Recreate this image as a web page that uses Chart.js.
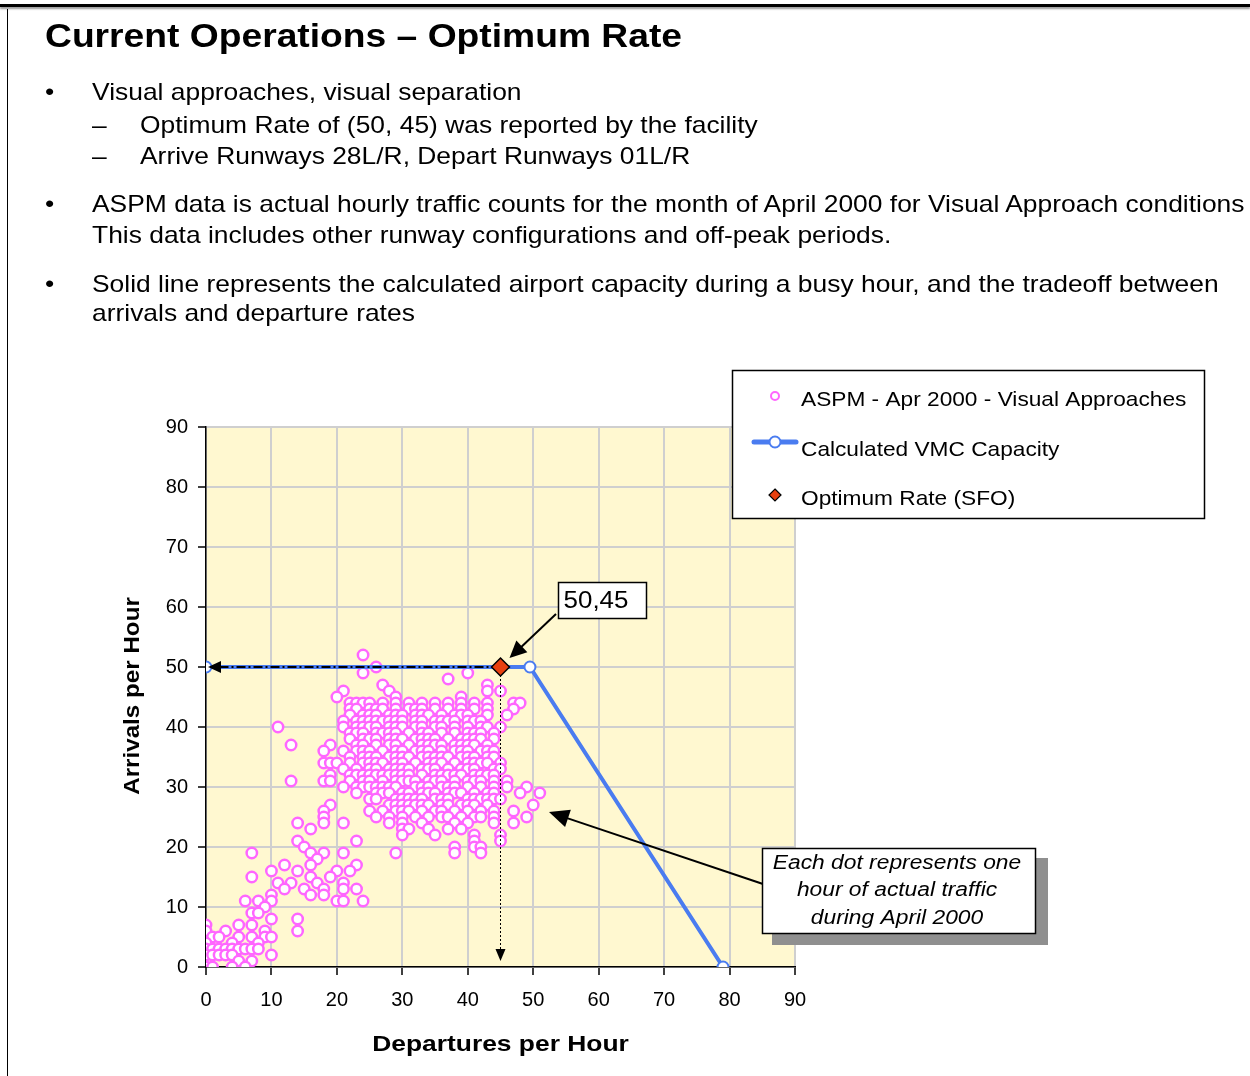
<!DOCTYPE html>
<html><head><meta charset="utf-8">
<script src="https://cdn.jsdelivr.net/npm/chart.js@4.4.1/dist/chart.umd.min.js"></script>
<style>
html,body{margin:0;padding:0;background:#fff;width:1250px;height:1076px;overflow:hidden;font-family:"Liberation Sans",Arial,sans-serif;}
#frameTop{position:absolute;left:0;top:4px;width:1250px;height:3px;background:#000;box-shadow:0 2px 2px #999;}
#frameLeft{position:absolute;left:7px;top:9px;width:1px;height:1067px;background:#000;}
.t{position:absolute;white-space:nowrap;color:#000;line-height:1;transform-origin:0 0;}
#title{left:45px;top:19px;font-size:33px;font-weight:bold;transform:scaleX(1.128);}
.b{font-size:24px;transform:scaleX(1.1);}
canvas{position:absolute;left:0;top:0;}
</style></head>
<body>
<canvas id="c" width="1250" height="1076"></canvas>
<div id="frameTop"></div><div id="frameLeft"></div>
<div class="t" id="title">Current Operations – Optimum Rate</div>
<div class="t b" style="left:45px;top:80px">•</div>
<div class="t b" style="left:92px;top:80px">Visual approaches, visual separation</div>
<div class="t b" style="left:92px;top:113px">–</div>
<div class="t b" style="left:140px;top:113px">Optimum Rate of (50, 45) was reported by the facility</div>
<div class="t b" style="left:92px;top:144px">–</div>
<div class="t b" style="left:140px;top:144px">Arrive Runways 28L/R, Depart Runways 01L/R</div>
<div class="t b" style="left:45px;top:192px">•</div>
<div class="t b" style="left:92px;top:192px">ASPM data is actual hourly traffic counts for the month of April 2000 for Visual Approach conditions</div>
<div class="t b" style="left:92px;top:223px">This data includes other runway configurations and off-peak periods.</div>
<div class="t b" style="left:45px;top:272px">•</div>
<div class="t b" style="left:92px;top:272px">Solid line represents the calculated airport capacity during a busy hour, and the tradeoff between</div>
<div class="t b" style="left:92px;top:301px">arrivals and departure rates</div>
<script>
// ---- data ----
const xTickValues = [0,10,20,30,40,50,60,70,80,90];
const yTickValues = [0,10,20,30,40,50,60,70,80,90];
const xTitle = 'Departures per Hour';
const yTitle = 'Arrivals per Hour';
const seriesNames = ['ASPM - Apr 2000 - Visual Approaches','Calculated VMC Capacity','Optimum Rate (SFO)'];
const capacityDepartures = [0, 49.5, 79];
const capacityArrivals = [50, 50, 0];
const optimumDepartures = [45];
const optimumArrivals = [50];
const calloutLabel = '50,45';
const noteLines = ['Each dot represents one','hour of actual traffic','during April 2000'];
// ASPM hourly counts: [departures, arrivals]
const aspmHours = [
[24,52],[26,50],[24,49],[40,49],[37,48],[27,47],[43,47],
[21,46],[28,46],[43,46],[45,46],[20,45],[29,45],[39,45],
[22,44],[23,44],[24,44],[25,44],[27,44],[29,44],[31,44],[33,44],[35,44],[37,44],[39,44],[41,44],[43,44],[47,44],[48,44],
[22,43],[23,43],[25,43],[26,43],[27,43],[29,43],[31,43],[32,43],[33,43],[35,43],[37,43],[39,43],[41,43],[43,43],[47,43],
[22,42],[24,42],[25,42],[26,42],[28,42],[29,42],[30,42],[32,42],[33,42],[34,42],[36,42],[38,42],[39,42],[40,42],[43,42],[46,42],
[21,41],[23,41],[24,41],[25,41],[26,41],[27,41],[28,41],[29,41],[30,41],[32,41],[33,41],[35,41],[36,41],[37,41],[38,41],[40,41],[41,41],[42,41],
[11,40],[21,40],[23,40],[24,40],[25,40],[26,40],[28,40],[29,40],[30,40],[32,40],[33,40],[35,40],[36,40],[38,40],[40,40],[42,40],[43,40],[45,40],
[22,39],[23,39],[24,39],[26,39],[27,39],[28,39],[29,39],[31,39],[33,39],[34,39],[36,39],[38,39],[40,39],[41,39],[42,39],[44,39],
[22,38],[24,38],[25,38],[26,38],[28,38],[29,38],[30,38],[32,38],[33,38],[34,38],[35,38],[37,38],[39,38],[40,38],[41,38],[42,38],[44,38],
[13,37],[19,37],[23,37],[24,37],[26,37],[28,37],[29,37],[31,37],[33,37],[34,37],[35,37],[36,37],[38,37],[39,37],[40,37],[41,37],[43,37],
[18,36],[21,36],[23,36],[24,36],[25,36],[27,36],[29,36],[30,36],[32,36],[33,36],[34,36],[36,36],[38,36],[39,36],[40,36],[42,36],[43,36],[44,36],
[22,35],[24,35],[25,35],[26,35],[28,35],[29,35],[30,35],[31,35],[33,35],[34,35],[35,35],[36,35],[37,35],[39,35],[40,35],[41,35],[43,35],[44,35],
[18,34],[19,34],[20,34],[22,34],[24,34],[25,34],[26,34],[27,34],[29,34],[30,34],[32,34],[34,34],[35,34],[36,34],[38,34],[40,34],[41,34],[42,34],[43,34],[45,34],
[21,33],[23,33],[25,33],[26,33],[28,33],[29,33],[30,33],[31,33],[33,33],[34,33],[35,33],[37,33],[39,33],[40,33],[41,33],[44,33],[45,33],
[19,32],[22,32],[23,32],[24,32],[25,32],[26,32],[27,32],[28,32],[29,32],[30,32],[31,32],[33,32],[35,32],[36,32],[37,32],[38,32],[39,32],[41,32],[42,32],[43,32],[44,32],
[13,31],[18,31],[19,31],[22,31],[24,31],[25,31],[27,31],[29,31],[30,31],[31,31],[32,31],[34,31],[35,31],[36,31],[38,31],[40,31],[41,31],[42,31],[44,31],[46,31],
[21,30],[23,30],[24,30],[25,30],[26,30],[27,30],[28,30],[29,30],[32,30],[33,30],[34,30],[36,30],[37,30],[38,30],[40,30],[42,30],[44,30],[46,30],[49,30],
[23,29],[26,29],[27,29],[28,29],[30,29],[31,29],[33,29],[34,29],[35,29],[37,29],[38,29],[39,29],[41,29],[43,29],[44,29],[48,29],[51,29],
[25,28],[26,28],[29,28],[30,28],[31,28],[32,28],[33,28],[35,28],[36,28],[37,28],[40,28],[41,28],[42,28],[43,28],[44,28],[45,28],
[19,27],[28,27],[29,27],[30,27],[31,27],[32,27],[33,27],[34,27],[36,27],[37,27],[39,27],[40,27],[41,27],[43,27],[50,27],
[18,26],[25,26],[27,26],[29,26],[30,26],[31,26],[33,26],[35,26],[36,26],[38,26],[40,26],[42,26],[44,26],[47,26],
[18,25],[26,25],[28,25],[30,25],[32,25],[34,25],[36,25],[37,25],[39,25],[41,25],[42,25],[44,25],[49,25],
[14,24],[18,24],[21,24],[28,24],[30,24],[33,24],[38,24],[40,24],[44,24],[47,24],
[16,23],[30,23],[31,23],[34,23],[37,23],[39,23],
[30,22],[35,22],[41,22],[45,22],
[14,21],[23,21],[41,21],[45,21],
[15,20],[38,20],[41,20],[42,20],
[7,19],[16,19],[18,19],[21,19],[29,19],[38,19],[42,19],
[17,18],[12,17],[16,17],[23,17],
[10,16],[14,16],[20,16],[22,16],
[7,15],[16,15],[19,15],
[11,14],[13,14],[17,14],[21,14],
[12,13],[15,13],[18,13],[21,13],[23,13],
[10,12],[16,12],[18,12],
[6,11],[8,11],[10,11],[20,11],[21,11],[24,11],
[9,10],[7,9],[8,9],[10,8],[14,8],
[0,7],[5,7],[7,7],
[0,6],[3,6],[9,6],[14,6],
[1,5],[2,5],[5,5],[7,5],[9,5],[10,5],
[0,4],[4,4],[8,4],
[0,3],[1,3],[2,3],[3,3],[4,3],[5,3],[6,3],[7,3],[8,3],
[0,2],[1,2],[2,2],[3,2],[4,2],[10,2],
[5,1],[7,1],
[0,0],[1,0],[4,0],[6,0]
];

// ---- styles ----
const FONT = '"Liberation Sans", Arial, sans-serif';
const PINK = '#ff66ff';
const BLUE = '#4a7cf0';
const RED = '#e8400f';
const CREAM = '#fff8d0';
const GRID = '#cfcfcf';

function arrow(ctx, x1, y1, x2, y2, len, half) {
  const a = Math.atan2(y2 - y1, x2 - x1);
  const c = Math.cos(a), s = Math.sin(a);
  ctx.beginPath(); ctx.moveTo(x1, y1); ctx.lineTo(x2 - c * len * 0.8, y2 - s * len * 0.8); ctx.stroke();
  ctx.setLineDash([]);
  ctx.beginPath(); ctx.moveTo(x2, y2);
  ctx.lineTo(x2 - len * c + half * s, y2 - len * s - half * c);
  ctx.lineTo(x2 - len * c - half * s, y2 - len * s + half * c);
  ctx.closePath(); ctx.fill();
}
function sText(ctx, t, x, y, sx, align) {
  ctx.save(); ctx.translate(x, y); ctx.scale(sx, 1); ctx.textAlign = align; ctx.fillText(t, 0, 0); ctx.restore();
}

const decor = {
  id: 'decor',
  beforeDraw(chart) {
    const {ctx, chartArea: a} = chart;
    ctx.save(); ctx.fillStyle = CREAM; ctx.fillRect(a.left, a.top, a.right - a.left, a.bottom - a.top); ctx.restore();
  },
  afterDatasetDraw(chart, args) {
    if (args.index !== 1) return;
    const {ctx, scales: {x, y}} = chart;
    const ox = x.getPixelForValue(optimumDepartures[0]);
    const oy = y.getPixelForValue(optimumArrivals[0]);
    ctx.save();
    ctx.strokeStyle = '#000'; ctx.fillStyle = '#000';
    ctx.lineWidth = 1.8; ctx.setLineDash([9, 3, 2, 3]);
    arrow(ctx, ox, oy, x.getPixelForValue(0) + 2, oy, 13, 6);
    ctx.lineWidth = 1; ctx.setLineDash([2, 2]);
    arrow(ctx, ox, oy, ox, y.getPixelForValue(0) - 6, 12, 5);
    ctx.restore();
  },
  afterDraw(chart) {
    const {ctx, scales: {x, y}} = chart;
    ctx.save();
    ctx.fillStyle = '#000'; ctx.font = 'bold 22px ' + FONT; ctx.textBaseline = 'middle';
    sText(ctx, xTitle, (x.left + x.right) / 2, 1045, 1.2, 'center');
    ctx.save(); ctx.translate(133, (y.top + y.bottom) / 2 - 1); ctx.rotate(-Math.PI / 2);
    sText(ctx, yTitle, 0, 0, 1.1, 'center'); ctx.restore();

    const ox = x.getPixelForValue(optimumDepartures[0]);
    const oy = y.getPixelForValue(optimumArrivals[0]);
    ctx.strokeStyle = '#000'; ctx.fillStyle = '#000'; ctx.lineWidth = 2;
    arrow(ctx, 556, 614, ox + 9, oy - 9, 17, 8);
    ctx.fillStyle = '#fff'; ctx.fillRect(558, 582, 88, 36);
    ctx.lineWidth = 1.5; ctx.strokeRect(558.5, 582.5, 88, 36);
    ctx.fillStyle = '#000'; ctx.font = '24px ' + FONT;
    sText(ctx, calloutLabel, 596, 601, 1.08, 'center');

    ctx.lineWidth = 2;
    arrow(ctx, 763, 884, 549, 812, 20, 9);
    ctx.fillStyle = '#8f8f8f'; ctx.fillRect(772, 858, 276, 87);
    ctx.fillStyle = '#fff'; ctx.fillRect(762, 848, 274, 86);
    ctx.lineWidth = 1.5; ctx.strokeRect(762.5, 848.5, 273, 85);
    ctx.fillStyle = '#000'; ctx.font = 'italic 20px ' + FONT;
    noteLines.forEach((t, i) => sText(ctx, t, 897, 863 + i * 27.5, 1.14, 'center'));

    ctx.fillStyle = '#fff'; ctx.fillRect(732, 370, 473, 149);
    ctx.lineWidth = 1.5; ctx.strokeStyle = '#000'; ctx.strokeRect(732.5, 370.5, 472, 148);
    ctx.font = '21px ' + FONT; ctx.fillStyle = '#000';
    sText(ctx, seriesNames[0], 801, 400, 1.08, 'left');
    sText(ctx, seriesNames[1], 801, 450, 1.08, 'left');
    sText(ctx, seriesNames[2], 801, 499, 1.08, 'left');
    ctx.strokeStyle = PINK; ctx.lineWidth = 2; ctx.fillStyle = '#fff';
    ctx.beginPath(); ctx.arc(775, 396, 4, 0, Math.PI * 2); ctx.fill(); ctx.stroke();
    ctx.strokeStyle = BLUE; ctx.lineWidth = 5; ctx.lineCap = 'round';
    ctx.beginPath(); ctx.moveTo(754, 442); ctx.lineTo(796, 442); ctx.stroke();
    ctx.lineWidth = 2; ctx.beginPath(); ctx.arc(775, 442, 5.5, 0, Math.PI * 2); ctx.fill(); ctx.stroke();
    ctx.fillStyle = RED; ctx.strokeStyle = '#000'; ctx.lineWidth = 1.2;
    ctx.beginPath(); ctx.moveTo(775, 489); ctx.lineTo(781, 495); ctx.lineTo(775, 501); ctx.lineTo(769, 495); ctx.closePath(); ctx.fill(); ctx.stroke();
    ctx.restore();
  }
};

const tickFont = {family: FONT, size: 20};
new Chart(document.getElementById('c'), {
  type: 'scatter',
  data: {
    datasets: [
      {label: seriesNames[2], data: optimumDepartures.map((d, i) => ({x: d, y: optimumArrivals[i]})),
       pointStyle: 'rectRot', pointRadius: 9, backgroundColor: RED, borderColor: '#000', borderWidth: 1.5},
      {label: seriesNames[1], data: capacityDepartures.map((d, i) => ({x: d, y: capacityArrivals[i]})),
       showLine: true, borderColor: BLUE, borderWidth: 4, pointRadius: 5.5, pointBackgroundColor: '#fff',
       pointBorderColor: BLUE, pointBorderWidth: 2, backgroundColor: '#fff', fill: false, tension: 0},
      {label: seriesNames[0], data: aspmHours.map(p => ({x: p[0], y: p[1]})),
       pointRadius: 5.2, pointBorderWidth: 2.5, borderColor: PINK, backgroundColor: '#fff'}
    ]
  },
  options: {
    responsive: false, animation: false, devicePixelRatio: 1,
    layout: {padding: {left: 0, top: 427, right: 455, bottom: 59}},
    plugins: {legend: {display: false}, tooltip: {enabled: false}},
    scales: {
      x: {type: 'linear', min: 0, max: 90,
          afterBuildTicks: s => { s.ticks = xTickValues.map(v => ({value: v})); },
          afterFit: s => { s.height = 50; },
          ticks: {font: tickFont, color: '#000', padding: 13, maxRotation: 0},
          grid: {color: GRID, lineWidth: 2, tickColor: '#000', tickLength: 8, tickWidth: 1.5},
          border: {color: '#000', width: 1.5}},
      y: {type: 'linear', min: 0, max: 90,
          afterBuildTicks: s => { s.ticks = yTickValues.map(v => ({value: v})); },
          afterFit: s => { s.width = 206; },
          ticks: {font: tickFont, color: '#000', padding: 10},
          grid: {color: GRID, lineWidth: 2, tickColor: '#000', tickLength: 8, tickWidth: 1.5},
          border: {color: '#000', width: 1.5}}
    }
  },
  plugins: [decor]
});
</script>
</body></html>
